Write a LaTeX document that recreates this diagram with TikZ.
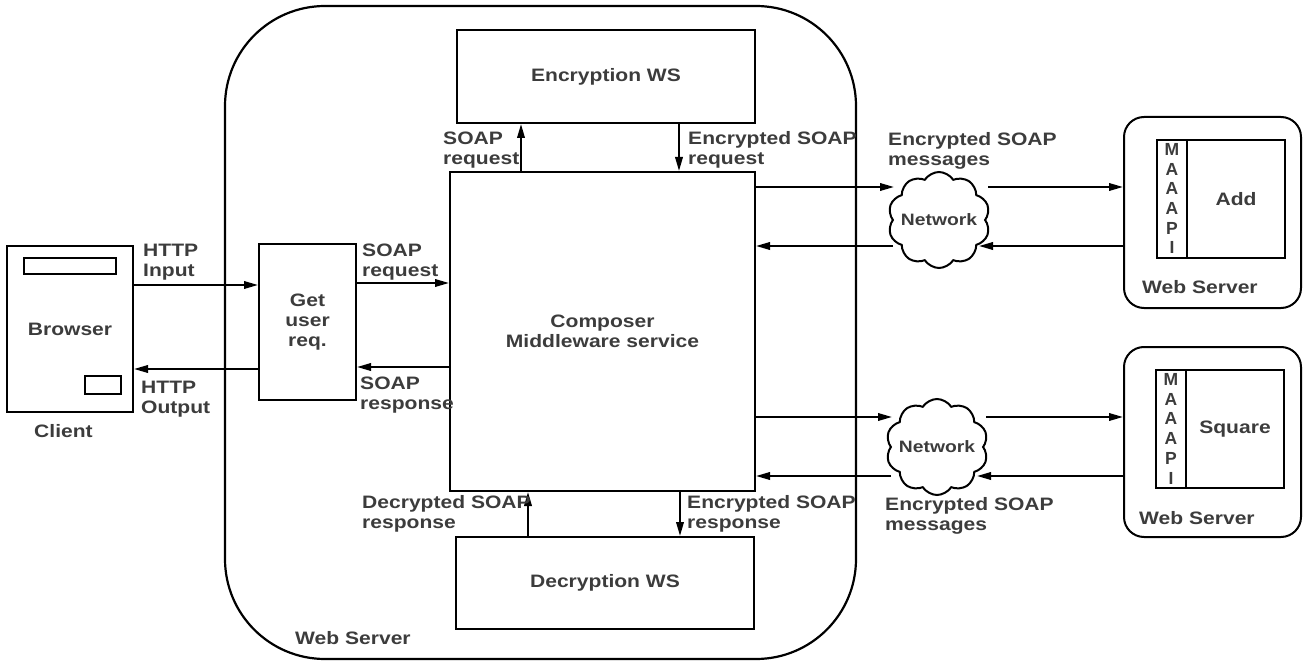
\documentclass[tikz,border=0pt]{standalone}
\usepackage{fontspec}
\setmainfont{Liberation Sans}[FakeStretch=1.17]
\newfontfamily\plainsans{Liberation Sans}
\usetikzlibrary{arrows.meta,shapes.symbols}

\definecolor{ink}{HTML}{3C3C3C}
\newcommand\labelfont{\fontsize{18}{20}\selectfont\bfseries}
\newcommand\netfont{\fontsize{16.5}{18}\selectfont\bfseries}
\newcommand\apifont{\plainsans\fontsize{17.5}{19.7}\selectfont\bfseries}
\newcommand\stackl[1]{\begin{tabular}[t]{@{}l@{}}#1\end{tabular}}
\newcommand\stackc[1]{\begin{tabular}[t]{@{}c@{}}#1\end{tabular}}

\tikzset{
  box/.style={draw=black, line width=2pt, inner sep=0pt, text=ink,
    font=\labelfont, align=center},
  lbl/.style={inner sep=0pt, text=ink, font=\labelfont, anchor=base west},
  conn/.style={line width=2pt, -{Triangle[length=14pt,width=7.5pt]}},
  netcloud/.style={cloud, cloud puffs=10, cloud puff arc=115, draw=black,
    line width=2pt, inner sep=0pt, minimum width=102pt,
    minimum height=96pt, text=ink, font=\netfont},
  server/.style={draw=black, line width=2pt, rounded corners=20pt,
    inner sep=0pt}
}

\begin{document}
\begin{tikzpicture}[x=1pt,y=-1pt]
\useasboundingbox (0,0) rectangle (1304,663);

% hosting web server
\node[draw=black, line width=2.2pt, rounded corners=100pt, inner sep=0pt,
  minimum width=631pt, minimum height=653pt] (webserver) at (540.5,332.5) {};
\node[lbl] at (295,644) {Web Server};

% client side
\node[box, minimum width=126pt, minimum height=166pt] (browser) at (70,329) {Browser};
\draw[line width=2pt] (24,258) rectangle (116,274);
\draw[line width=2pt] (85,376) rectangle (121,394);
\node[lbl] at (34,437) {Client};

% services on the hosting server
\node[box, minimum width=97pt, minimum height=156pt] (getreq) at (307.5,322) {Get\\user\\req.};
\node[box, minimum width=305pt, minimum height=319pt] (composer) at (602.5,331.5)
  {Composer\\Middleware service};
\node[box, minimum width=298pt, minimum height=93pt] (encws) at (606,76.5) {Encryption WS};
\node[box, minimum width=298pt, minimum height=92pt] (decws) at (605,583) {Decryption WS};

% networks
\node[netcloud] (net1) at (939,220) {\makebox[0pt]{Network}};
\node[netcloud] (net2) at (937,447) {\makebox[0pt]{Network}};

% remote web servers
\node[server, minimum width=177pt, minimum height=191pt] (srvadd) at (1212.5,212.5) {};
\node[box, minimum width=30pt, minimum height=118pt] (apiadd) at (1172,199) {};
\node[box, minimum width=98pt, minimum height=118pt] (add) at (1236,199) {Add};
\node[inner sep=0pt, text=ink, font=\apifont, anchor=base] at (1172,155.5)
  {\stackc{M\\A\\A\\A\\P\\I}};
\node[lbl] at (1142,294) {Web Server};

\node[server, minimum width=177pt, minimum height=190pt] (srvsq) at (1212.5,442) {};
\node[box, minimum width=30pt, minimum height=118pt] (apisq) at (1171,429) {};
\node[box, minimum width=98pt, minimum height=118pt] (square) at (1235,429) {Square};
\node[inner sep=0pt, text=ink, font=\apifont, anchor=base] at (1171,385.5)
  {\stackc{M\\A\\A\\A\\P\\I}};
\node[lbl] at (1139,524) {Web Server};

% connector levels
\coordinate (yhin) at (0,285);
\coordinate (yhout) at (0,369);
\coordinate (ysreq) at (0,283);
\coordinate (ysres) at (0,367);
\coordinate (xencup) at (521,0);
\coordinate (xencdn) at (679,0);
\coordinate (xdecup) at (528,0);
\coordinate (xdecdn) at (680,0);
% points on the cloud outlines
\coordinate (c1L) at (894,187);
\coordinate (c1R) at (988,187);
\coordinate (c1Rb) at (979,246);
\coordinate (c1Lb) at (893,246);
\coordinate (c2L) at (892,417);
\coordinate (c2R) at (986,417);
\coordinate (c2Rb) at (977,476);
\coordinate (c2Lb) at (891,476);

% client <-> request handler
\draw[conn] (browser.east |- yhin) -- (getreq.west |- yhin);
\draw[conn] (getreq.west |- yhout) -- (browser.east |- yhout);
\node[lbl] at (143,257) {\stackl{HTTP\\Input}};
\node[lbl] at (141,393) {\stackl{HTTP\\Output}};

% request handler <-> composer
\draw[conn] (getreq.east |- ysreq) -- (composer.west |- ysreq);
\draw[conn] (composer.west |- ysres) -- (getreq.east |- ysres);
\node[lbl] at (362,257) {\stackl{SOAP\\request}};
\node[lbl] at (360,389) {\stackl{SOAP\\response}};

% composer <-> encryption
\draw[conn] (composer.north -| xencup) -- (encws.south -| xencup);
\draw[conn] (encws.south -| xencdn) -- (composer.north -| xencdn);
\node[lbl] at (443,145) {\stackl{SOAP\\request}};
\node[lbl] at (688,145) {\stackl{Encrypted SOAP\\request}};

% composer <-> decryption
\draw[conn] (decws.north -| xdecup) -- (composer.south -| xdecup);
\draw[conn] (composer.south -| xdecdn) -- (decws.north -| xdecdn);
\node[lbl] at (362,508) {\stackl{Decrypted SOAP\\response}};
\node[lbl] at (687,508) {\stackl{Encrypted SOAP\\response}};

% composer <-> Add server
\draw[conn] (composer.east |- c1L) -- (c1L);
\draw[conn] (c1R) -- (srvadd.west |- c1R);
\draw[conn] (srvadd.west |- c1Rb) -- (c1Rb);
\draw[conn] (c1Lb) -- (composer.east |- c1Lb);
\node[lbl] at (888,146) {\stackl{Encrypted SOAP\\messages}};

% composer <-> Square server
\draw[conn] (composer.east |- c2L) -- (c2L);
\draw[conn] (c2R) -- (srvsq.west |- c2R);
\draw[conn] (srvsq.west |- c2Rb) -- (c2Rb);
\draw[conn] (c2Lb) -- (composer.east |- c2Lb);
\node[lbl] at (885,510) {\stackl{Encrypted SOAP\\messages}};
\end{tikzpicture}
\end{document}
